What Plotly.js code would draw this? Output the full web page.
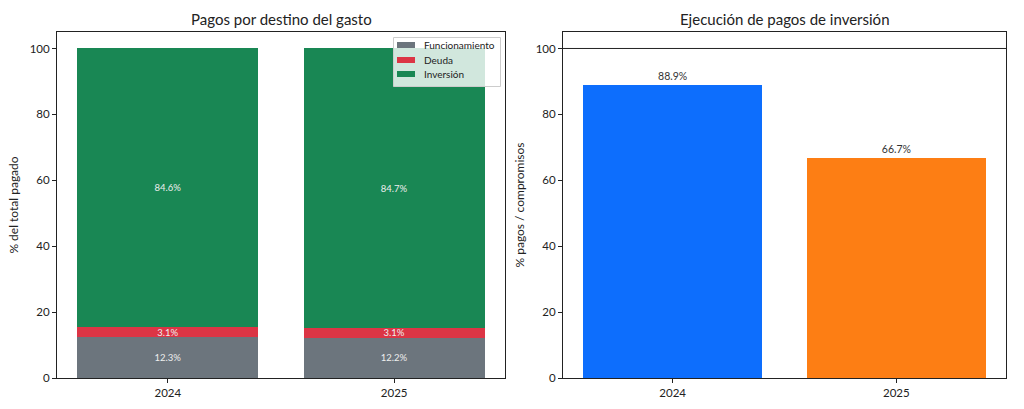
<!DOCTYPE html>
<html><head><meta charset="utf-8">
<script src="https://cdn.plot.ly/plotly-3.0.1.min.js"></script>
<style>html,body{margin:0;padding:0;background:#fff}#c{width:1024px;height:409px}</style>
</head><body><div id="c"></div>
<script>
const years = ['2024', '2025'];
const seriesNames = ['Funcionamiento', 'Deuda', 'Inversión'];
const seriesColors = ['#6c757d', '#dc3545', '#198754'];
const funcionamiento = [12.3, 12.2];
const deuda = [3.1, 3.1];
const inversion = [84.6, 84.7];
const ejecucion = [88.9, 66.7];
const ejecColors = ['#0d6efd', '#fd7e14'];

const FONT = 'Lato, "Noto Sans", sans-serif';
const segText = {size: 9.5, color: '#eeeeee', family: FONT};
function seg(name, vals, color) {
  return {type: 'bar', name: name, x: years, y: vals, xaxis: 'x', yaxis: 'y',
    marker: {color: color}, width: 0.8, showlegend: false,
    text: vals.map(v => v.toFixed(1) + '%'), textposition: 'inside',
    insidetextanchor: 'middle', constraintext: 'none', textfont: segText,
    hoverinfo: 'skip'};
}
const traces = [
  seg(seriesNames[0], funcionamiento, seriesColors[0]),
  seg(seriesNames[1], deuda, seriesColors[1]),
  seg(seriesNames[2], inversion, seriesColors[2]),
  {type: 'bar', x: years, y: ejecucion, xaxis: 'x2', yaxis: 'y2', width: 0.8,
   marker: {color: ejecColors}, showlegend: false,
   text: ejecucion.map(v => v.toFixed(1) + '%'), textposition: 'outside',
   constraintext: 'none', cliponaxis: false,
   textfont: {size: 10.5, color: '#333', family: FONT}, hoverinfo: 'skip'}
];
const ax = {showline: true, mirror: true, linecolor: '#222', linewidth: 1,
  ticks: 'outside', ticklen: 4, tickcolor: '#222', showgrid: false, zeroline: false,
  tickfont: {size: 11.5, color: '#222', family: FONT}};
const domTop = 1 - 32/409, domBot = 1 - 378/409;
const px = v => v / 1024, py = v => 1 - v / 409;

// manual matplotlib-like legend
const legShapes = [{type: 'rect', xref: 'paper', yref: 'paper', x0: px(393.5), x1: px(500.5), y0: py(86.5), y1: py(37.5),
  fillcolor: 'rgba(255,255,255,0.8)', line: {color: '#cccccc', width: 1}, layer: 'above'}];
const legAnn = [];
const legY = [45, 60, 74];
seriesNames.forEach((n, i) => {
  legShapes.push({type: 'rect', xref: 'paper', yref: 'paper', x0: px(397), x1: px(415),
    y0: py(legY[i] + 3), y1: py(legY[i] - 3), fillcolor: seriesColors[i], line: {width: 0}, layer: 'above'});
  legAnn.push({text: n, xref: 'paper', yref: 'paper', x: px(422), y: py(legY[i]), xanchor: 'left', yanchor: 'middle',
    showarrow: false, font: {size: 10, family: FONT, color: '#222'}});
});

const layout = {
  width: 1024, height: 409, margin: {l: 0, r: 0, t: 0, b: 0},
  paper_bgcolor: '#fff', plot_bgcolor: '#fff', barmode: 'stack', bargap: 0.2,
  font: {family: FONT, color: '#222'}, showlegend: false,
  xaxis: Object.assign({}, ax, {domain: [px(57), px(505)], range: [-0.49, 1.49], type: 'category'}),
  yaxis: Object.assign({}, ax, {domain: [domBot, domTop], range: [0, 105], tickvals: [0,20,40,60,80,100],
    title: {text: '% del total pagado', font: {size: 12, family: FONT, color: '#222'}, standoff: 8}}),
  xaxis2: Object.assign({}, ax, {domain: [px(563), px(1006)], range: [-0.49, 1.49], type: 'category', anchor: 'y2'}),
  yaxis2: Object.assign({}, ax, {domain: [domBot, domTop], range: [0, 105], anchor: 'x2', tickvals: [0,20,40,60,80,100],
    title: {text: '% pagos / compromisos', font: {size: 12, family: FONT, color: '#222'}, standoff: 8}}),
  shapes: [{type: 'line', xref: 'x2 domain', x0: 0, x1: 1, yref: 'y2', y0: 100, y1: 100,
    line: {color: '#222', width: 1}}].concat(legShapes),
  annotations: [
    {text: 'Pagos por destino del gasto', xref: 'paper', yref: 'paper', x: px(281), y: py(19),
     xanchor: 'center', yanchor: 'middle', showarrow: false, font: {size: 15, family: FONT, color: '#222'}},
    {text: 'Ejecución de pagos de inversión', xref: 'paper', yref: 'paper', x: px(785), y: py(19),
     xanchor: 'center', yanchor: 'middle', showarrow: false, font: {size: 15, family: FONT, color: '#222'}}
  ].concat(legAnn)
};
Plotly.newPlot('c', traces, layout, {displayModeBar: false, staticPlot: true});
</script></body></html>
